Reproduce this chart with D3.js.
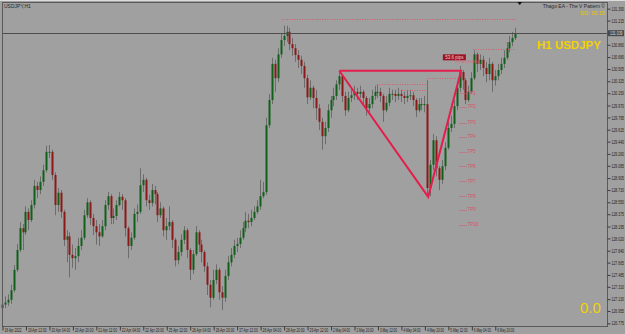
<!DOCTYPE html>
<html lang="en">
<head>
  <meta charset="UTF-8">
  <script src="https://d3js.org/d3.v7.min.js" charset="utf-8"></script>
  <title>H1 USDJPY</title>
  <style>
    body { margin: 0; background: #a0a0a0; overflow: hidden; }
    svg text { font-family: "Liberation Sans", Arial, sans-serif; }
  </style>
</head>
<body>
  <div class="chart"></div>
  <script>
    // H1 bars (2 hours per drawn candle)
    const firstOpen = 127.00;
    const closes = [
      127.05,127.08,127.12,127.26,127.56,127.85,128.17,128.11,128.41,128.29,
      128.51,128.79,128.73,128.85,129.02,129.29,129.29,128.95,128.51,128.69,
      128.41,128.00,128.05,127.78,127.73,127.76,127.91,128.03,128.36,128.55,
      128.32,128.20,128.11,128.05,128.20,128.51,128.64,128.32,128.35,128.51,
      128.63,128.58,128.17,127.91,128.03,128.38,128.41,128.80,128.88,128.58,
      128.54,128.73,128.67,128.36,128.46,128.14,128.20,128.26,128.00,127.70,
      127.82,128.00,128.14,127.85,127.56,127.79,128.11,127.93,127.82,127.61,
      127.34,127.15,127.41,127.56,127.23,127.15,127.47,127.67,127.78,127.91,
      127.94,128.03,128.17,128.28,128.26,128.32,128.41,128.49,128.64,128.70,
      129.68,130.05,130.58,130.37,130.72,130.93,130.99,131.05,130.87,130.81,
      130.71,130.64,130.55,130.37,130.09,130.23,130.08,129.93,129.73,129.52,
      129.64,129.90,130.05,130.11,130.28,130.40,130.11,129.90,130.08,130.12,
      130.17,130.14,130.17,130.08,129.93,129.99,130.11,130.17,130.17,130.11,
      129.90,130.01,130.14,130.14,130.11,130.14,130.11,130.08,130.11,130.12,
      130.05,129.90,129.99,129.99,129.99,128.76,129.10,129.46,129.05,128.88,
      129.08,129.35,129.64,129.70,129.96,130.23,130.46,130.34,130.05,130.17,
      130.37,130.72,130.58,130.64,130.52,130.43,130.58,130.34,130.40,130.49,
      130.58,130.67,130.81,130.90,130.96,131.03
    ];
    const highs = [
      127.14,127.17,127.20,127.34,127.63,127.94,128.26,128.23,128.49,128.46,
      128.58,128.88,128.85,128.93,129.10,129.38,129.39,129.32,128.99,128.76,
      128.73,128.44,128.14,128.11,127.93,127.88,128.03,128.14,128.44,128.61,
      128.58,128.38,128.29,128.23,128.29,128.58,128.70,128.67,128.46,128.58,
      128.70,128.67,128.61,128.20,128.11,128.46,128.52,129.05,128.96,128.91,
      128.66,128.82,128.79,128.70,128.55,128.49,128.32,128.49,128.29,128.03,
      127.91,128.08,128.20,128.17,127.88,127.85,128.20,128.14,128.00,127.85,
      127.67,127.41,127.56,127.64,127.59,127.32,127.56,127.76,127.88,128.00,
      128.03,128.14,128.26,128.41,128.38,128.44,128.49,128.58,128.88,128.85,
      129.79,130.14,130.67,130.64,130.81,131.02,131.14,131.14,131.11,130.96,
      130.87,130.78,130.70,130.61,130.42,130.34,130.26,130.20,129.99,129.79,
      129.73,129.99,130.11,130.23,130.34,130.46,130.40,130.17,130.17,130.23,
      130.26,130.23,130.26,130.20,130.11,130.08,130.20,130.26,130.28,130.23,
      130.14,130.11,130.23,130.20,130.20,130.23,130.20,130.17,130.20,130.20,
      130.17,130.08,130.08,130.08,130.11,130.34,129.17,129.55,129.52,129.08,
      129.17,129.43,129.73,129.82,130.05,130.31,130.55,130.49,130.37,130.26,
      130.46,130.78,130.75,130.72,130.70,130.61,130.67,130.61,130.49,130.58,
      130.67,130.78,130.90,130.99,131.05,131.11
    ];
    const lows = [
      126.94,127.00,127.03,127.06,127.23,127.53,127.82,127.85,128.07,128.14,
      128.26,128.46,128.61,128.67,128.79,128.99,129.20,128.88,128.36,128.41,
      128.32,127.91,127.67,127.45,127.59,127.56,127.67,127.85,128.00,128.32,
      128.22,128.07,127.93,127.91,128.03,128.14,128.44,128.23,128.23,128.29,
      128.49,128.44,128.05,127.73,127.85,128.00,128.26,128.38,128.70,128.49,
      128.44,128.49,128.52,128.26,128.32,128.05,128.00,128.14,127.88,127.61,
      127.64,127.76,127.94,127.73,127.41,127.50,127.76,127.82,127.67,127.53,
      127.19,127.01,127.12,127.35,127.12,126.97,127.09,127.41,127.61,127.73,
      127.82,127.88,128.00,128.11,128.17,128.20,128.29,128.38,128.44,128.61,
      128.66,129.64,129.99,130.17,130.31,130.67,130.84,130.90,130.78,130.70,
      130.61,130.52,130.43,130.23,129.99,130.05,129.93,129.76,129.61,129.32,
      129.40,129.58,129.79,129.96,130.05,130.20,130.02,129.82,129.87,130.02,
      130.05,130.05,130.08,129.99,129.82,129.87,129.93,130.05,130.08,130.02,
      129.73,129.87,129.96,130.05,130.02,130.05,130.02,129.99,130.02,130.05,
      129.96,129.80,129.87,129.90,129.87,128.67,128.64,129.02,128.93,128.73,
      128.82,129.02,129.32,129.58,129.64,129.90,130.17,130.20,129.99,130.02,
      130.14,130.34,130.46,130.49,130.40,130.31,130.34,130.17,130.26,130.34,
      130.43,130.52,130.64,130.75,130.84,130.93
    ];
    const timeLabels = ['18 Apr 2022','19 Apr 12:00','20 Apr 04:00','20 Apr 20:00','21 Apr 12:00','22 Apr 04:00',
      '22 Apr 20:00','25 Apr 12:00','26 Apr 04:00','26 Apr 20:00','27 Apr 12:00','28 Apr 04:00','28 Apr 20:00',
      '29 Apr 12:00','2 May 04:00','2 May 20:00','3 May 12:00','4 May 04:00','4 May 20:00','5 May 12:00',
      '6 May 04:00','6 May 20:00'];
    const priceTicks = [131.390,131.215,130.860,130.680,130.505,130.325,130.150,129.970,129.795,129.615,
      129.440,129.260,129.085,128.905,128.730,128.550,128.375,128.195,128.020,127.840,127.665,127.485,
      127.310,127.130,126.955,126.775];
    const bidPrice = 131.03;
    const tpLevels = [130.15,129.95,129.72,129.51,129.29,129.08,128.86,128.64,128.44,128.22];
    const vPattern = [{bar: 115, price: 130.48}, {bar: 145.3, price: 128.63}, {bar: 156.5, price: 130.48}, {bar: 115, price: 130.48}];
    // dotted levels: price, from bar, to bar
    const ddLevel = {price: 131.24, from: 95.5, to: 175.5};
    const pinkLevels = [
      {price: 130.285, from: 127.9, to: 145},
      {price: 130.197, from: 136.4, to: 145},
      {price: 130.373, from: 145, to: 155.5},
      {price: 130.80, from: 160.6, to: 175}
    ];

    const W = 625, H = 334;
    const plot = {left: 2, right: 607, top: 2, bottom: 326};
    const x = d3.scaleLinear().domain([0, 206.26]).range([plot.left, plot.right]);
    const y = d3.scaleLinear().domain([126.765, 131.517]).range([324, 0]);

    const svg = d3.select('.chart').append('svg').attr('width', W).attr('height', H);
    svg.append('rect').attr('width', W).attr('height', H).attr('fill', '#a0a0a0');
    svg.append('line').attr('x1', 0).attr('x2', W).attr('y1', 0.5).attr('y2', 0.5).attr('stroke', '#dcdcdc');

    const bars = closes.map((c, i) => {
      const o = i ? closes[i - 1] : firstOpen;
      return {i, o, c, h: Math.max(highs[i], o, c), l: Math.min(lows[i], o, c)};
    });

    const g = svg.append('g');
    g.selectAll('line.wick').data(bars).join('line').attr('class', 'wick')
      .attr('x1', d => Math.round(x(d.i)) + 0.5).attr('x2', d => Math.round(x(d.i)) + 0.5)
      .attr('y1', d => y(d.h)).attr('y2', d => y(d.l))
      .attr('stroke', '#6c6c6c').attr('stroke-width', 1);
    g.selectAll('rect.body').data(bars).join('rect').attr('class', 'body')
      .attr('x', d => Math.round(x(d.i)) - 0.5).attr('width', 2)
      .attr('y', d => y(Math.max(d.o, d.c)))
      .attr('height', d => Math.max(1, Math.abs(y(d.o) - y(d.c))))
      .attr('fill', d => d.c >= d.o ? '#11601a' : '#8c1818');

    // bid line
    svg.append('line').attr('x1', plot.left).attr('x2', plot.right)
      .attr('y1', Math.round(y(bidPrice)) + 0.5).attr('y2', Math.round(y(bidPrice)) + 0.5)
      .attr('stroke', '#4e4e4e');

    // dotted levels
    const dotted = [ddLevel].concat(pinkLevels);
    svg.selectAll('line.lvl').data(dotted).join('line').attr('class', 'lvl')
      .attr('x1', d => x(d.from)).attr('x2', d => x(d.to))
      .attr('y1', d => Math.round(y(d.price)) + 0.5).attr('y2', d => Math.round(y(d.price)) + 0.5)
      .attr('stroke', '#d65a6a').attr('stroke-dasharray', '1,1.5');

    svg.selectAll('line.tp').data(tpLevels).join('line').attr('class', 'tp')
      .attr('x1', x(156)).attr('x2', x(158.5))
      .attr('y1', d => Math.round(y(d)) + 0.5).attr('y2', d => Math.round(y(d)) + 0.5)
      .attr('stroke', '#d65a6a').attr('stroke-dasharray', '1,1');
    svg.selectAll('text.tp').data(tpLevels).join('text').attr('class', 'tp')
      .attr('x', x(158.7)).attr('y', d => y(d) + 1.5)
      .attr('font-size', 4.5).attr('fill', '#d8506a')
      .text((d, k) => 'TP' + (k + 1));

    // V pattern
    svg.append('path').datum(vPattern)
      .attr('d', d3.line().x(d => x(d.bar)).y(d => y(d.price)))
      .attr('fill', 'none').attr('stroke', '#e41e4c').attr('stroke-width', 2);

    // pips box
    svg.append('rect').attr('x', x(150.3)).attr('y', y(130.72)).attr('width', 23).attr('height', 6)
      .attr('fill', '#9c1224');
    svg.append('text').attr('x', x(150.3) + 11.5).attr('y', y(130.72) + 4.6).attr('text-anchor', 'middle')
      .attr('font-size', 4.5).attr('fill', '#f0d0d0').text('53.6 pips');
    svg.append('text').attr('x', x(154.5)).attr('y', y(130.59)).attr('font-size', 4)
      .attr('fill', '#e05a72').text('97.00 (100%)');

    // frame
    svg.append('rect').attr('x', plot.left + 0.5).attr('y', plot.top + 0.5)
      .attr('width', plot.right - plot.left).attr('height', plot.bottom - plot.top)
      .attr('fill', 'none').attr('stroke', '#5a5a5a');

    // price axis
    const yAxis = svg.append('g').attr('transform', `translate(${plot.right + 0.5},0)`)
      .call(d3.axisRight(y).tickValues(priceTicks).tickSize(3).tickPadding(1).tickFormat(d3.format('.3f')));
    yAxis.select('.domain').remove();
    yAxis.selectAll('line').attr('stroke', '#3a3a3a');
    yAxis.selectAll('text').attr('font-size', 5).attr('fill', '#222')
      .attr('textLength', 12.5).attr('lengthAdjust', 'spacingAndGlyphs')
      .attr('font-family', '"Liberation Sans", Arial, sans-serif');

    // bid box
    svg.append('rect').attr('x', plot.right + 1).attr('y', y(bidPrice) - 3).attr('width', 16).attr('height', 6)
      .attr('fill', '#4a4a4a');
    svg.append('text').attr('x', plot.right + 3).attr('y', y(bidPrice) + 1.8).attr('font-size', 5)
      .attr('textLength', 12.5).attr('lengthAdjust', 'spacingAndGlyphs')
      .attr('fill', '#dddddd').text('131.039');

    // time axis
    const xAxis = svg.append('g').attr('transform', `translate(0,${plot.bottom + 0.5})`)
      .call(d3.axisBottom(x).tickValues(timeLabels.map((_, k) => k * 8)).tickSize(4)
        .tickFormat((d, k) => timeLabels[k]));
    xAxis.select('.domain').remove();
    xAxis.selectAll('line').attr('stroke', '#3a3a3a').attr('transform', 'translate(0.5,0)');
    xAxis.selectAll('text').attr('text-anchor', 'start').attr('x', 2).attr('y', 2).attr('dy', '0.71em')
      .attr('font-size', 5).attr('fill', '#222')
      .attr('textLength', (d, k) => timeLabels[k].length * 1.55).attr('lengthAdjust', 'spacingAndGlyphs')
      .attr('font-family', '"Liberation Sans", Arial, sans-serif');

    // texts
    svg.append('text').attr('x', 4).attr('y', 7.5).attr('font-size', 5).attr('fill', '#2a2a2a').text('USDJPY,H1');
    svg.append('text').attr('x', 605).attr('y', 8).attr('text-anchor', 'end').attr('font-size', 5)
      .attr('fill', '#2a2a2a').text('Thago EA - The V Pattern ©');
    svg.append('text').attr('x', 605).attr('y', 14.5).attr('text-anchor', 'end').attr('font-size', 5.5)
      .attr('fill', '#e8c400').text('DD: 95.15');
    svg.append('text').attr('x', 537).attr('y', 49).attr('font-size', 11.5).attr('font-weight', 'bold')
      .attr('fill', '#f2d200').text('H1 USDJPY');
    svg.append('text').attr('x', 580).attr('y', 313).attr('font-size', 15)
      .attr('fill', '#f2d200').text('0.0');
    svg.append('path').attr('d', `M${x(176.5) - 2.5},2 h5 l-2.5,3 z`).attr('fill', '#111');
  </script>
</body>
</html>
